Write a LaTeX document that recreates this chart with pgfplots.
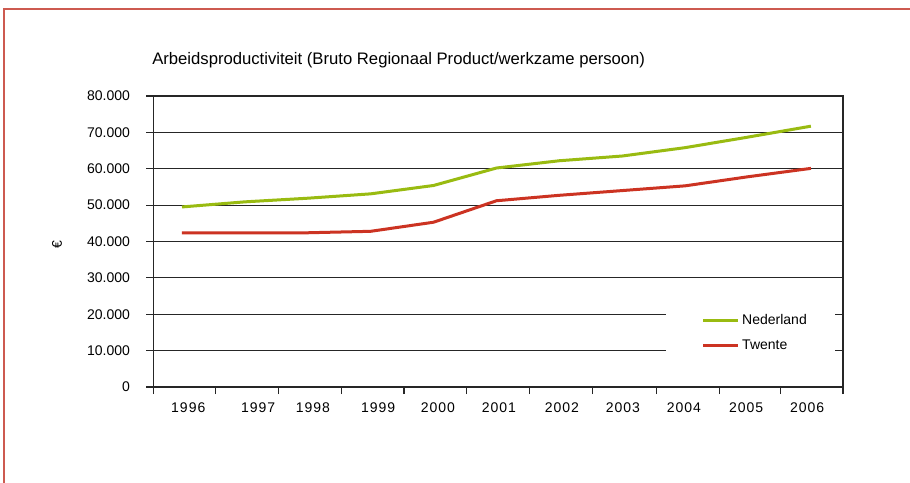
\documentclass[border=0pt]{standalone}
\usepackage{pgfplots}
\pgfplotsset{compat=1.18}
\usepackage{fontspec}
\setmainfont{Liberation Sans}
\definecolor{nlgreen}{RGB}{153,187,17}
\definecolor{twred}{RGB}{204,51,34}
\definecolor{framered}{RGB}{205,90,80}
\begin{document}
\begin{tikzpicture}[x=0.75pt,y=0.75pt]
\clip (0,0) rectangle (910,482);
\fill[white] (0,0) rectangle (910,482);
\draw[framered, line width=0.9pt] (4,-20) -- (4,473) -- (930,473);
\node[anchor=west, inner sep=0pt, font=\fontsize{12.5}{14}\selectfont] at (152,421.5) {Arbeidsproductiviteit (Bruto Regionaal Product/werkzame persoon)};
\begin{axis}[
  at={(115.125pt,71.25pt)}, anchor=south west,
  scale only axis, width=517.1pt, height=218.25pt,
  xmin=-0.453, xmax=10.51, ymin=0, ymax=80000,
  xtick={-0.453,0.54,1.54,2.53,3.53,4.52,5.53,6.53,7.54,8.54,9.52,10.51},
  xticklabels={},
  extra x ticks={0.1,1.21,2.08,3.12,4.07,5.04,6.04,7.01,7.98,8.97,9.94},
  extra x tick labels={1996,1997,1998,1999,2000,2001,2002,2003,2004,2005,2006},
  extra x tick style={major tick length=0pt, grid=none,
     xticklabel style={anchor=north, yshift=-8.5pt, font=\fontsize{10.5}{12}\selectfont\addfontfeature{LetterSpace=7}}},
  ytick={0,10000,20000,30000,40000,50000,60000,70000,80000},
  scaled y ticks=false,
  /pgf/number format/1000 sep={.},
  /pgf/number format/assume math mode=true,
  yticklabel style={anchor=east, xshift=-8.9pt, font=\fontsize{10.5}{12}\selectfont},
  ymajorgrids, grid style={black!85, line width=0.8pt},
  tick align=outside, major tick length=5.25pt,
  xtick pos=bottom, ytick pos=left,
  axis line style={black!85, line width=0.8pt},
  tick style={black!85, line width=0.8pt},
  ylabel={€}, ylabel style={at={(axis description cs:-0.14,0.488)}, anchor=center, font=\fontsize{10.5}{12}\selectfont},
  legend image code/.code={\draw[line width=2.25pt] (0pt,0pt) -- (26pt,0pt);},
  legend style={at={(rel axis cs:0.795,0.186)}, anchor=west, draw=none, fill=none, inner sep=0pt, row sep=6.5pt,
     font=\fontsize{10.5}{12}\selectfont, /tikz/every even column/.append style={column sep=1pt}},
  legend cell align=left,
]
\fill[white] (rel axis cs:0.743,0.058) rectangle (rel axis cs:0.988,0.333);
\addplot[nlgreen, line width=2.25pt, line join=round] coordinates {
(0,49500) (1,50900) (2,51900) (3,53100) (4,55400) (5,60200) (6,62200) (7,63500) (8,65800) (9,68700) (10,71700)};
\addlegendentry{Nederland}
\addplot[twred, line width=2.25pt, line join=round] coordinates {
(0,42400) (1,42400) (2,42400) (3,42800) (4,45300) (5,51200) (6,52700) (7,54000) (8,55300) (9,57800) (10,60100)};
\addlegendentry{Twente}
\end{axis}
\end{tikzpicture}
\end{document}
